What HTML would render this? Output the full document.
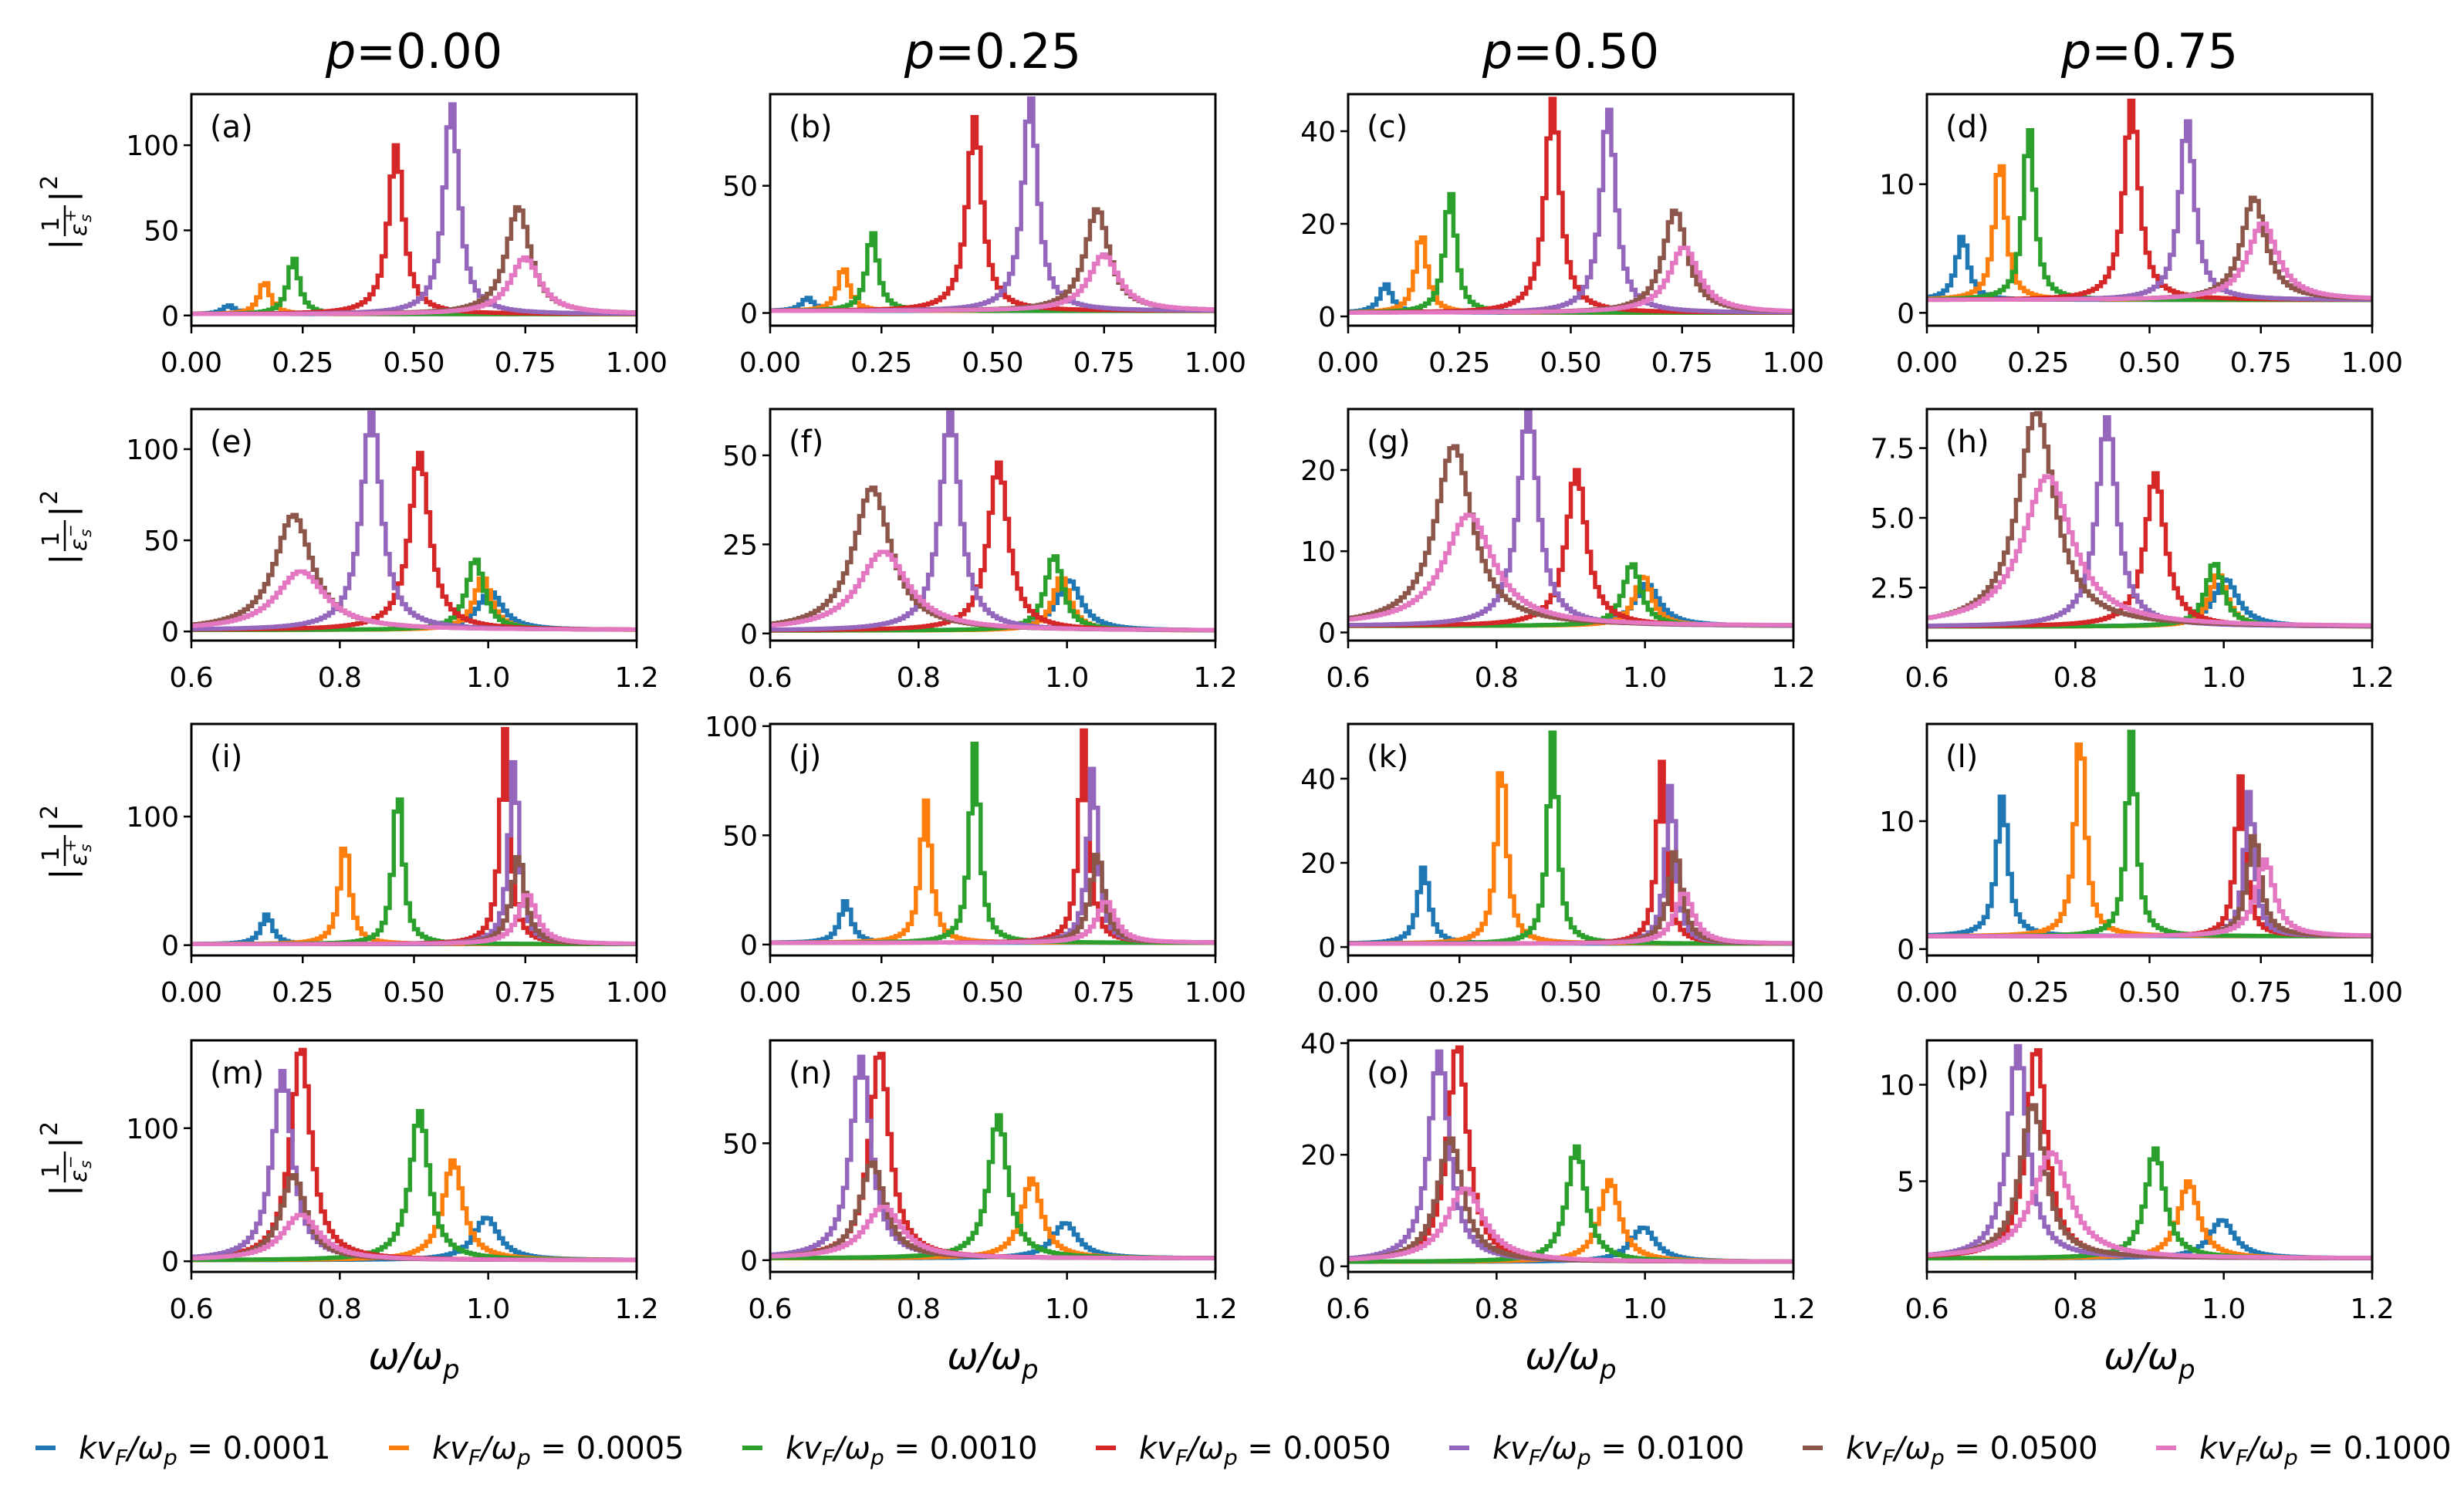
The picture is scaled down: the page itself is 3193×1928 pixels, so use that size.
<!DOCTYPE html>
<html><head><meta charset="utf-8"><style>
html,body{margin:0;padding:0;background:#fff}
svg{display:block;font-family:"DejaVu Sans","Liberation Sans",sans-serif}
</style></head><body>
<svg id="fig" width="3193" height="1928" viewBox="0 0 3193 1928" xmlns="http://www.w3.org/2000/svg"></svg>
<script>
const colors=["#1f77b4","#ff7f0e","#2ca02c","#d62728","#9467bd","#8c564b","#e377c2"];
const seriesLabels=["0.0001","0.0005","0.0010","0.0050","0.0100","0.0500","0.1000"];
const colTitles=["0.00","0.25","0.50","0.75"];
const panelLetters=["a","b","c","d","e","f","g","h","i","j","k","l","m","n","o","p"];
const xRangeRow=[[0,1],[0.6,1.2],[0,1],[0.6,1.2]];
const xTicksRow=[[0,0.25,0.5,0.75,1],[0.6,0.8,1.0,1.2],[0,0.25,0.5,0.75,1],[0.6,0.8,1.0,1.2]];
const xTickLabelsRow=[["0.00","0.25","0.50","0.75","1.00"],["0.6","0.8","1.0","1.2"],["0.00","0.25","0.50","0.75","1.00"],["0.6","0.8","1.0","1.2"]];
const yRanges=[[-6,130],[-5,86],[-2,48],[-1,17],[-5,122],[-2,63],[-1,27.5],[0.6,8.9],[-8,172],[-5,101],[-2,53],[-0.5,17.6],[-8,166],[-5,94],[-1,40.5],[0.3,12.3]];
const yTicks=[[0,50,100],[0,50],[0,20,40],[0,10],[0,50,100],[0,25,50],[0,10,20],[2.5,5,7.5],[0,100],[0,50,100],[0,20,40],[0,10],[0,100],[0,50],[0,20,40],[5,10]];
const yTickLabels=[["0","50","100"],["0","50"],["0","20","40"],["0","10"],["0","50","100"],["0","25","50"],["0","10","20"],["2.5","5.0","7.5"],["0","100"],["0","50","100"],["0","20","40"],["0","10"],["0","100"],["0","50"],["0","20","40"],["5","10"]];
const peakCenters=[
[0.08,0.16,0.225,0.455,0.58,0.73,0.745],[0.08,0.16,0.225,0.455,0.58,0.73,0.745],[0.08,0.16,0.225,0.455,0.58,0.73,0.75],[0.075,0.16,0.225,0.455,0.58,0.73,0.75],
[1.0,0.99,0.98,0.905,0.84,0.735,0.745],[1.0,0.99,0.98,0.905,0.84,0.735,0.75],[1.0,0.995,0.98,0.905,0.84,0.74,0.76],[1.0,0.99,0.985,0.905,0.84,0.745,0.76],
[0.165,0.34,0.46,0.70,0.72,0.73,0.75],[0.165,0.345,0.455,0.70,0.72,0.73,0.75],[0.165,0.34,0.455,0.70,0.72,0.73,0.75],[0.165,0.34,0.455,0.70,0.72,0.73,0.755],
[0.995,0.95,0.905,0.745,0.72,0.735,0.745],[0.995,0.95,0.905,0.745,0.72,0.735,0.75],[0.995,0.95,0.905,0.745,0.72,0.735,0.755],[0.995,0.95,0.905,0.745,0.72,0.74,0.765]];
const peakHeights=[
[6,20,34,100,125,64,34],[6,18,32,77,85,41,23],[7,18,27,47,45,23,15],[6,12,14.5,16.5,15,9,7],
[22,30,40,98,120,64,33],[15,16,22,48,62,41,23],[6,7,8.5,20,27.5,23,14.5],[2.8,3.0,3.4,6.6,8.6,8.8,6.5],
[24,80,122,168,145,70,40],[20,66,92,98,82,42,20],[19,44,51,44,39,23,13],[12,17,17,13.5,12.5,9,7],
[33,76,113,162,143,65,35],[16,35,62,90,87,42,23],[7,15.5,21.5,40,38.5,23,14],[3,5,6.7,12,12,9,6.5]];
const baselines=[0.8,0.8,0.8,1,0.8,0.8,0.8,1.1,0.8,0.8,0.8,1,0.8,0.8,0.8,1];
const halfWidthsRow=[[0.016,0.015,0.015,0.02,0.02,0.032,0.04],[0.02,0.014,0.014,0.016,0.016,0.03,0.04],[0.015,0.014,0.013,0.013,0.013,0.018,0.025],[0.02,0.016,0.015,0.016,0.016,0.02,0.03]];

const NS="http://www.w3.org/2000/svg";
const svg=document.getElementById('fig');
function mk(tag,attrs,parent){const e=document.createElementNS(NS,tag);for(const k in attrs)e.setAttribute(k,attrs[k]);(parent||svg).appendChild(e);return e;}
const colLeft=[248,998,1747,2497], W=577;
const rowTop=[122,530,938,1348], H=300;

colTitles.forEach((t,c)=>{
  const tx=mk('text',{x:colLeft[c]+W/2,y:88,'text-anchor':'middle','font-size':62});
  
  
  const a=mk('tspan',{'font-style':'italic'},tx);a.textContent='p';
  const b=mk('tspan',{},tx);b.textContent='='+t;
});

for(let r=0;r<4;r++){
  const cy=rowTop[r]+H/2;
  const yl=mk('g',{transform:`translate(82,${cy}) rotate(-90)`});
  
  
  const t1=mk('text',{x:-52,y:14,'font-size':44},yl);t1.textContent='|';
  const t2=mk('text',{x:-28,y:-6,'font-size':30},yl);t2.textContent='1';
  mk('line',{x1:-34,x2:6,y1:2,y2:2,stroke:'#000','stroke-width':2.5},yl);
  const t3=mk('text',{x:-34,y:30,'font-size':30,'font-style':'italic'},yl);t3.textContent='ε';
  const t3b=mk('text',{x:-16,y:36,'font-size':20,'font-style':'italic'},yl);t3b.textContent='s';
  const t3c=mk('text',{x:-16,y:16,'font-size':20},yl);t3c.textContent=(r%2==0)?'+':'−';
  const t4=mk('text',{x:10,y:14,'font-size':44},yl);t4.textContent='|';
  const t5=mk('text',{x:26,y:-8,'font-size':30},yl);t5.textContent='2';
  for(let c=0;c<4;c++){
    const p=r*4+c, L=colLeft[c], T=rowTop[r];
    const [x0,x1]=xRangeRow[r], [y0,y1]=yRanges[p];
    const sx=v=>L+(v-x0)/(x1-x0)*W;
    const sy=v=>T+H-(v-y0)/(y1-y0)*H;
    const g=mk('g',{});
    
    
    const clipId='clip'+p;
    const cp=mk('clipPath',{id:clipId},g);mk('rect',{x:L,y:T,width:W,height:H},cp);
    const lines=mk('g',{'clip-path':`url(#${clipId})`},g);
    for(let s=0;s<7;s++){
      const c0=peakCenters[p][s],h=peakHeights[p][s]-baselines[p],w=halfWidthsRow[r][s],b=baselines[p];
      let d='';const N=110;
      for(let i=0;i<=N;i++){
        const xv=x0+(x1-x0)*i/N;
        const yv=b+h*w*w/((xv-c0)*(xv-c0)+w*w);
        const xn=x0+(x1-x0)*(i+1)/N;
        d+=(i?'L':'M')+sx(xv).toFixed(1)+','+sy(yv).toFixed(1)+'L'+sx(Math.min(xn,x1)).toFixed(1)+','+sy(yv).toFixed(1);
      }
      const path=mk('path',{d:d,fill:'none',stroke:colors[s],'stroke-width':5.5,'stroke-linejoin':'miter'},lines);
      
      
    }
    mk('rect',{x:L,y:T,width:W,height:H,fill:'none',stroke:'#000','stroke-width':3},g);
    xTicksRow[r].forEach((v,i)=>{
      mk('line',{x1:sx(v),x2:sx(v),y1:T+H,y2:T+H+10,stroke:'#000','stroke-width':2.5},g);
      const tl=mk('text',{x:sx(v),y:T+H+60,'text-anchor':'middle','font-size':36},g);
      
      
      tl.textContent=xTickLabelsRow[r][i];
    });
    yTicks[p].forEach((v,i)=>{
      mk('line',{x1:L-10,x2:L,y1:sy(v),y2:sy(v),stroke:'#000','stroke-width':2.5},g);
      const tl=mk('text',{x:L-16,y:sy(v)+13,'text-anchor':'end','font-size':36},g);
      
      
      tl.textContent=yTickLabels[p][i];
    });
    const pl=mk('text',{x:L+24,y:T+56,'font-size':40},g);
    
    
    pl.textContent='('+panelLetters[p]+')';
    if(r==3){
      const xl=mk('text',{x:L+W/2,y:1774,'text-anchor':'middle','font-size':48,'font-style':'italic'},g);
      
      
      const a=mk('tspan',{},xl);a.textContent='ω/ω';
      const b=mk('tspan',{dy:12,'font-size':34},xl);b.textContent='p';
    }
  }
}
const leg=mk('g',{});


seriesLabels.forEach((lab,s)=>{
  const x=46+s*458;
  const e=mk('g',{},leg);
  
  
  mk('line',{x1:x,x2:x+26,y1:1876,y2:1876,stroke:colors[s],'stroke-width':6},e);
  const t=mk('text',{x:x+56,y:1890,'font-size':40},e);
  const a=mk('tspan',{'font-style':'italic'},t);a.textContent='kv';
  const b=mk('tspan',{'font-style':'italic','font-size':28,dy:8},t);b.textContent='F';
  const c=mk('tspan',{'font-style':'italic',dy:-8},t);c.textContent='/ω';
  const d=mk('tspan',{'font-style':'italic','font-size':28,dy:8},t);d.textContent='p';
  const f=mk('tspan',{dy:-8},t);f.textContent=' = '+lab;
});
</script>
</body></html>
